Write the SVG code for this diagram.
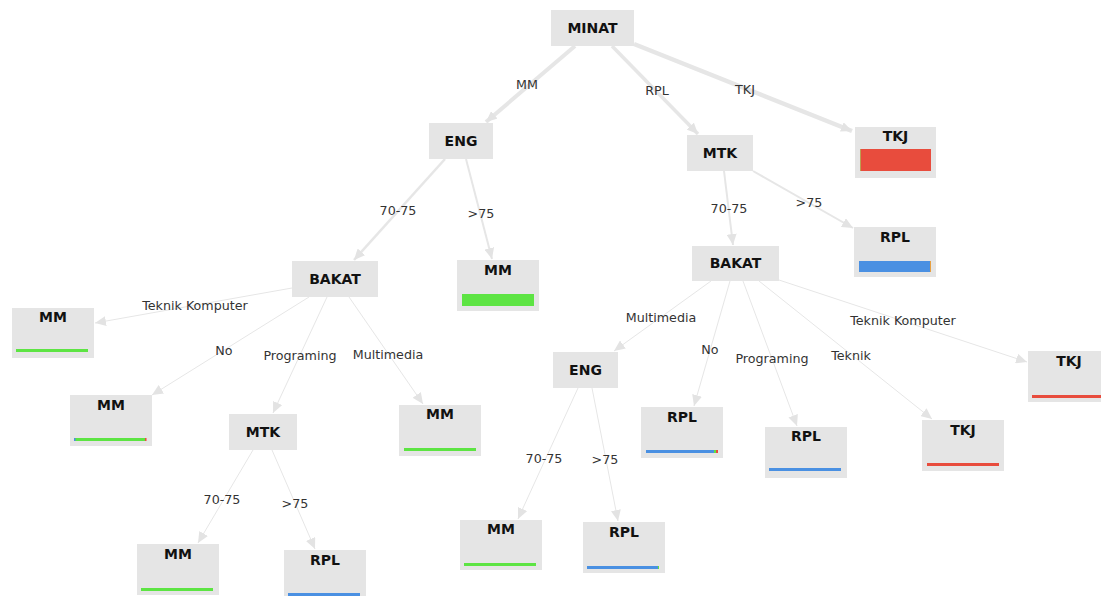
<svg xmlns="http://www.w3.org/2000/svg" width="1101" height="596" viewBox="0 0 1101 596">
<defs>
<style>
.n{fill:#e5e5e5}
.t{font-family:"DejaVu Sans",sans-serif;font-weight:bold;font-size:14px;fill:#111;text-anchor:middle}
.l{font-family:"DejaVu Sans",sans-serif;font-size:12.7px;fill:#333;text-anchor:middle}
.e{stroke:#e6e6e6;fill:none;marker-end:url(#a)}
.g{fill:#5de443}.b{fill:#4a90e2}.r{fill:#e84c3d}
</style>
<marker id="a" markerUnits="userSpaceOnUse" markerWidth="12" markerHeight="10" refX="11" refY="5" orient="auto"><path d="M0,0 L11,5 L0,10 z" fill="#e3e3e3"/></marker>
</defs>
<rect width="1101" height="596" fill="#fff"/>
<g id="edges">
<line class="e" x1="575" y1="46" x2="486" y2="122" stroke-width="4"/>
<line class="e" x1="612" y1="46" x2="698" y2="134" stroke-width="3.5"/>
<line class="e" x1="634" y1="44" x2="852" y2="131" stroke-width="4.5"/>
<line class="e" x1="445" y1="159" x2="354" y2="260" stroke-width="2.5"/>
<line class="e" x1="466" y1="159" x2="492" y2="259" stroke-width="2"/>
<line class="e" x1="724" y1="171" x2="733" y2="245" stroke-width="2"/>
<line class="e" x1="753" y1="171" x2="853" y2="228" stroke-width="2"/>
<line class="e" x1="292" y1="288" x2="95" y2="323" stroke-width="1"/>
<line class="e" x1="309" y1="297" x2="152" y2="395" stroke-width="1"/>
<line class="e" x1="327" y1="297" x2="273" y2="413" stroke-width="1"/>
<line class="e" x1="349" y1="297" x2="423" y2="404" stroke-width="1"/>
<line class="e" x1="253" y1="450" x2="198" y2="543" stroke-width="1"/>
<line class="e" x1="272" y1="450" x2="315" y2="549" stroke-width="1"/>
<line class="e" x1="711" y1="281" x2="614" y2="351" stroke-width="1"/>
<line class="e" x1="730" y1="281" x2="694" y2="406" stroke-width="1"/>
<line class="e" x1="743" y1="281" x2="797" y2="426" stroke-width="1"/>
<line class="e" x1="759" y1="281" x2="932" y2="419" stroke-width="1"/>
<line class="e" x1="779" y1="280" x2="1027" y2="362" stroke-width="1"/>
<line class="e" x1="578" y1="388" x2="518" y2="519" stroke-width="1"/>
<line class="e" x1="592" y1="388" x2="618" y2="521" stroke-width="1"/>
<text class="l" x="527" y="89">MM</text>
<text class="l" x="657" y="95">RPL</text>
<text class="l" x="745" y="94">TKJ</text>
<text class="l" x="398" y="215">70-75</text>
<text class="l" x="481" y="218">&gt;75</text>
<text class="l" x="729" y="213">70-75</text>
<text class="l" x="809" y="207">&gt;75</text>
<text class="l" x="195" y="310">Teknik Komputer</text>
<text class="l" x="224" y="355">No</text>
<text class="l" x="300" y="360">Programing</text>
<text class="l" x="388" y="359">Multimedia</text>
<text class="l" x="222" y="504">70-75</text>
<text class="l" x="295" y="508">&gt;75</text>
<text class="l" x="661" y="322">Multimedia</text>
<text class="l" x="710" y="354">No</text>
<text class="l" x="772" y="363">Programing</text>
<text class="l" x="851" y="360">Teknik</text>
<text class="l" x="903" y="325">Teknik Komputer</text>
<text class="l" x="544" y="463">70-75</text>
<text class="l" x="605" y="464">&gt;75</text>
</g>
<g id="n_minat"><rect class="n" x="551" y="10" width="83" height="36"/><text class="t" x="592.5" y="33">MINAT</text></g>
<g id="n_eng1"><rect class="n" x="429" y="123" width="64" height="36"/><text class="t" x="461" y="146">ENG</text></g>
<g id="n_mtk1"><rect class="n" x="687" y="135" width="66" height="36"/><text class="t" x="720" y="158">MTK</text></g>
<g id="n_tkj1"><rect class="n" x="855" y="127" width="81" height="51"/><text class="t" x="895.5" y="141">TKJ</text><rect class="r" x="860" y="149" width="71" height="22"/><rect fill="#a9c25a" x="860" y="149" width="0.7" height="22"/></g>
<g id="n_bakat1"><rect class="n" x="292" y="261" width="86" height="36"/><text class="t" x="335" y="284">BAKAT</text></g>
<g id="n_mm1"><rect class="n" x="457" y="260" width="82" height="51"/><text class="t" x="498" y="275">MM</text><rect class="g" x="462" y="294" width="72" height="12"/></g>
<g id="n_rpl1"><rect class="n" x="854" y="227" width="82" height="50"/><text class="t" x="895" y="242">RPL</text><rect class="b" x="859" y="261" width="71" height="11"/><rect fill="#e8a040" x="930" y="261" width="1" height="11"/></g>
<g id="n_bakat2"><rect class="n" x="692" y="246" width="87" height="35"/><text class="t" x="735.5" y="268">BAKAT</text></g>
<g id="n_mm2"><rect class="n" x="12" y="308" width="82" height="50"/><text class="t" x="53" y="322">MM</text><rect class="g" x="16" y="349" width="72" height="3"/></g>
<g id="n_mm3"><rect class="n" x="70" y="395" width="82" height="51"/><text class="t" x="111" y="410">MM</text><rect class="g" x="74" y="438" width="72" height="3"/><rect class="b" x="74" y="438" width="1.5" height="3"/><rect class="r" x="145" y="438" width="1.5" height="3"/></g>
<g id="n_mtk2"><rect class="n" x="229" y="414" width="68" height="36"/><text class="t" x="263" y="437">MTK</text></g>
<g id="n_mm4"><rect class="n" x="399" y="405" width="82" height="51"/><text class="t" x="440" y="419">MM</text><rect class="g" x="404" y="448" width="72" height="3"/></g>
<g id="n_mm5"><rect class="n" x="137" y="544" width="82" height="51"/><text class="t" x="178" y="559">MM</text><rect class="g" x="141" y="588" width="72" height="3"/></g>
<g id="n_rpl2"><rect class="n" x="284" y="550" width="82" height="51"/><text class="t" x="325" y="565">RPL</text><rect class="b" x="288" y="593" width="72" height="3"/></g>
<g id="n_eng2"><rect class="n" x="553" y="352" width="65" height="36"/><text class="t" x="585.5" y="375">ENG</text></g>
<g id="n_rpl3"><rect class="n" x="641" y="407" width="82" height="51"/><text class="t" x="682" y="422">RPL</text><rect class="b" x="646" y="450" width="72" height="3"/><rect class="g" x="714" y="450" width="2" height="3"/><rect class="r" x="716" y="450" width="2" height="3"/></g>
<g id="n_rpl4"><rect class="n" x="765" y="427" width="82" height="51"/><text class="t" x="806" y="441">RPL</text><rect class="b" x="769" y="468" width="72" height="3"/></g>
<g id="n_tkj2"><rect class="n" x="922" y="420" width="82" height="51"/><text class="t" x="963" y="435">TKJ</text><rect class="r" x="927" y="463" width="72" height="3"/></g>
<g id="n_tkj3"><rect class="n" x="1028" y="351" width="82" height="51"/><text class="t" x="1069" y="366">TKJ</text><rect class="r" x="1032" y="395" width="72" height="3"/></g>
<g id="n_mm6"><rect class="n" x="460" y="520" width="82" height="50"/><text class="t" x="501" y="534">MM</text><rect class="g" x="464" y="563" width="72" height="3"/></g>
<g id="n_rpl5"><rect class="n" x="583" y="522" width="82" height="51"/><text class="t" x="624" y="537">RPL</text><rect class="b" x="587" y="566" width="71" height="3"/><rect class="g" x="658" y="566" width="1" height="3"/></g>
</svg>
